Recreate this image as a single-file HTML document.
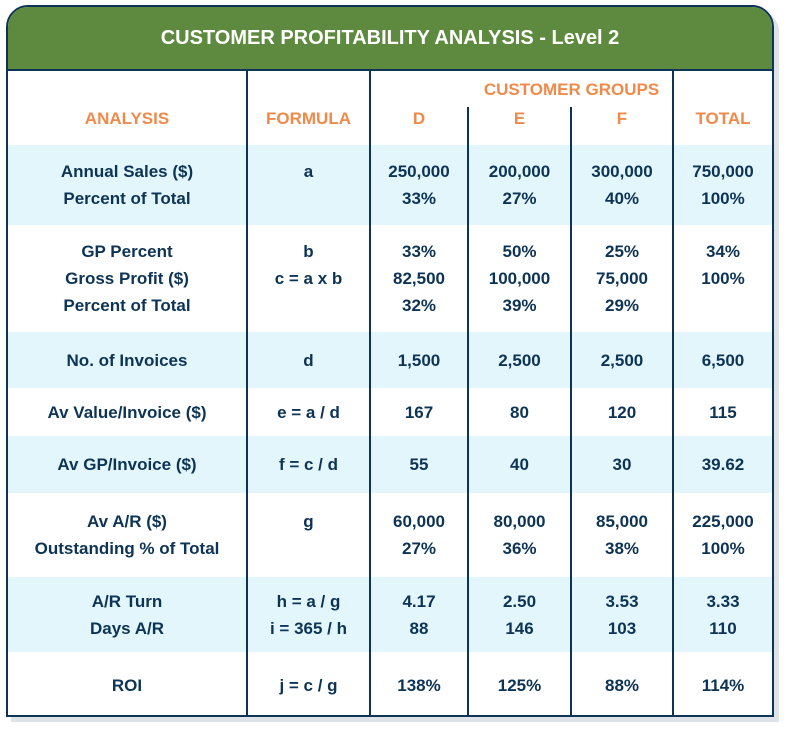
<!DOCTYPE html>
<html><head><meta charset="utf-8"><style>
body{margin:0;width:789px;height:732px;background:#fff;font-family:"Liberation Sans",sans-serif;font-weight:bold;overflow:hidden}
.frame{position:absolute;left:6px;top:5px;width:764px;height:708px;border:2px solid #0d3355;border-radius:22px 22px 0 0;box-shadow:5px 5px 0 #dde3e7;overflow:hidden;background:#fff}
.title{position:absolute;left:0;top:0;width:764px;height:62px;background:#5e8a3f;color:#fff;font-size:20px;display:flex;align-items:center;justify-content:center;border-bottom:2px solid #0d3355}
.band{position:absolute;left:0;width:764px;background:#e2f6fc}
.vl{position:absolute;width:2px;background:#0d3355}
.cell{position:absolute;display:flex;flex-direction:column;align-items:center;justify-content:center;color:#0d3355;font-size:17px;line-height:27px;text-align:center;white-space:nowrap}
.hd{color:#f08a4b;font-size:17px}
</style></head><body>
<div class="frame">
<div class="title">CUSTOMER PROFITABILITY ANALYSIS - Level 2</div>
<div class="band" style="top:138px;height:80px"></div>
<div class="band" style="top:325px;height:56px"></div>
<div class="band" style="top:429px;height:57px"></div>
<div class="band" style="top:570px;height:75px"></div>
<div class="vl" style="left:238px;top:62px;height:650px"></div>
<div class="vl" style="left:361px;top:62px;height:650px"></div>
<div class="vl" style="left:459px;top:100px;height:612px"></div>
<div class="vl" style="left:562px;top:100px;height:612px"></div>
<div class="vl" style="left:664px;top:62px;height:650px"></div>
<div id="cells"></div>
</div>
<script>
const cols=[[0,238],[240,361],[363,459],[461,562],[564,664],[666,764]];
const rowTops=[138,218,325,381,429,486,570,645];
const rowBots=[218,325,381,429,486,570,645,712];
const rows=[
[["Annual Sales ($)","Percent of Total"],["a",""],["250,000","33%"],["200,000","27%"],["300,000","40%"],["750,000","100%"]],
[["GP Percent","Gross Profit ($)","Percent of Total"],["b","c = a x b",""],["33%","82,500","32%"],["50%","100,000","39%"],["25%","75,000","29%"],["34%","100%",""]],
[["No. of Invoices"],["d"],["1,500"],["2,500"],["2,500"],["6,500"]],
[["Av Value/Invoice ($)"],["e = a / d"],["167"],["80"],["120"],["115"]],
[["Av GP/Invoice ($)"],["f = c / d"],["55"],["40"],["30"],["39.62"]],
[["Av A/R ($)","Outstanding % of Total"],["g",""],["60,000","27%"],["80,000","36%"],["85,000","38%"],["225,000","100%"]],
[["A/R Turn","Days A/R"],["h = a / g","i = 365 / h"],["4.17","88"],["2.50","146"],["3.53","103"],["3.33","110"]],
[["ROI"],["j = c / g"],["138%"],["125%"],["88%"],["114%"]]
];
const headers=["ANALYSIS","FORMULA","D","E","F","TOTAL"];
const host=document.getElementById('cells');
function mk(x0,x1,y0,y1,lines,cls){
 const d=document.createElement('div');
 d.className='cell'+(cls?' '+cls:'');
 d.style.left=x0+'px';d.style.width=(x1-x0)+'px';d.style.top=y0+'px';d.style.height=(y1-y0)+'px';
 lines.forEach(t=>{const s=document.createElement('div');s.textContent=t||'\u00a0';d.appendChild(s);});
 host.appendChild(d);return d;
}
headers.forEach((h,i)=>{
 const c=mk(cols[i][0],cols[i][1],95,128,[h],'hd');
 
 
});
const g=mk(363,764,66,98,["CUSTOMER GROUPS"],'hd');


rows.forEach((r,ri)=>{
 r.forEach((lines,ci)=>{
  const c=mk(cols[ci][0],cols[ci][1],rowTops[ri],rowBots[ri],lines,'');
  
  
 });
});
</script>
</body></html>
